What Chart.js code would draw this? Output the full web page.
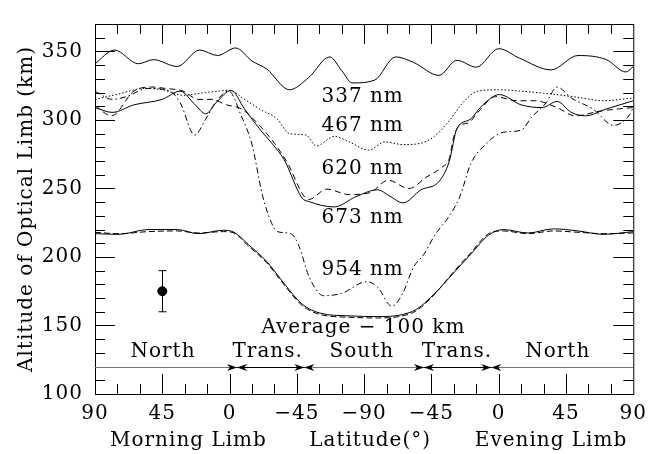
<!DOCTYPE html>
<html>
<head>
<meta charset="utf-8">
<script src="https://cdn.jsdelivr.net/npm/chart.js@4"></script>
<style>
  body { margin: 0; background: #fff; }
</style>
</head>
<body>
<canvas id="limb" width="654" height="454"></canvas>
<script>
// x is the distance along the limb path: 0 = 90 (morning) ... 180 = -90 ... 360 = 90 (evening)
var xTickLabels = ['90', '45', '0', '\u221245', '\u221290', '\u221245', '0', '45', '90'];

var pos337 = [0, 13, 29, 39, 55, 70, 82, 94, 105, 115, 130, 143, 157, 165, 172, 187, 201, 213, 230, 242, 255, 270, 284, 305, 323, 342, 355, 360];
var alt337 = [341, 351, 341, 344, 339, 351, 347, 352.5, 343, 337, 322, 331, 346, 336, 327, 329, 346, 342, 332.5, 343.5, 338.5, 352, 345, 336.5, 347, 344, 335, 339];

var pos467 = [0, 16, 33, 45, 59, 74, 90, 100, 110, 122, 130, 141, 148, 160, 170, 183, 194, 206, 218, 227, 237, 246, 256, 270, 285, 300, 320, 340, 360];
var alt467 = [315, 319, 323, 322, 318, 320, 321.5, 315, 308, 300.5, 290, 289, 281, 288, 284, 278, 284, 282, 283, 288, 299.5, 312.5, 321, 322, 321, 319.5, 317, 314, 316];

var pos620 = [0, 11, 26, 38, 47, 59, 69, 78, 88, 98, 110, 120, 128, 143, 155, 170, 184, 196, 210, 222, 232, 237, 240, 244, 250, 256, 268, 282, 294, 309, 321, 338, 350, 360];
var alt620 = [310.5, 303, 321, 324, 323, 321, 315, 315, 311, 308, 296, 283, 270, 242, 249.5, 245.5, 247, 256, 250, 258.5, 265.5, 272, 288, 296, 298, 305.5, 317, 314, 314, 309, 303, 306.5, 308, 309];

var pos673 = [0, 11.5, 26, 45, 57, 67, 74, 81, 91, 100, 110, 119, 126.5, 138.5, 143, 160, 174.5, 189, 197, 206, 218, 230, 237, 242, 251, 258.5, 270.5, 285, 299, 309, 318.5, 328, 342, 360];
var alt673 = [309, 305.5, 311, 315, 321, 311, 304.5, 312.5, 321.5, 308, 293.5, 282, 271, 243, 240.5, 236.5, 244, 249, 244.5, 239.5, 249, 255, 270, 293.5, 300.5, 310, 318.5, 311, 309, 313.5, 305.5, 303, 308, 314];

var pos954 = [0, 11.5, 21, 35.5, 50, 57, 66.7, 74, 81, 89.5, 97.8, 105, 112, 118, 122, 131, 136, 143.4, 153, 165, 181.8, 189, 198.6, 205.8, 213, 220, 227.3, 237, 244, 251.3, 261, 273, 285, 292, 301.7, 309, 318.5, 333, 347, 357, 360];
var alt954 = [321, 315, 317, 323, 321, 312.5, 289, 300.5, 313.5, 321, 303, 282, 245, 225, 218.5, 217, 209, 185, 171.7, 173.5, 182, 178, 164, 173.5, 192.5, 202, 216, 230, 244, 268, 282, 291, 292.5, 302, 312.5, 324, 316, 308, 296, 303, 309];

var posAvg = [0, 16, 35.5, 55, 69, 86, 93, 102.6, 114.6, 126.6, 138.6, 150.6, 170, 189, 203.4, 215.3, 227.3, 239.3, 251.3, 263.3, 273, 289.7, 306.5, 323, 340, 360];
var altAvgA = [217, 216.5, 220, 220, 217, 219.5, 218, 209, 197, 180.5, 165.5, 159, 157, 156.5, 157.5, 162, 173.5, 187.7, 202, 216, 220, 217.5, 220.5, 219, 216.5, 218.5];
var altAvgB = [218, 217, 218.5, 219, 217.5, 218.5, 217.5, 208, 196, 179.5, 164.5, 158, 156, 155.5, 156.5, 161, 173, 188.5, 203, 217, 219, 217, 219, 218, 217, 217.5];

// single measurement with error bar
var errPos = 45, errAlt = 175, errSize = 15;

// limb regions along the path (altitude 120 line)
var regionBounds = [95, 140, 220, 265];
var regionNames = ['North', 'Trans.', 'South', 'Trans.', 'North'];
var regionPos = [45.5, 115.5, 178.5, 242, 309.5];
var regionAlt = 131;

var curveNames = ['337 nm', '467 nm', '620 nm', '673 nm', '954 nm', 'Average \u2212 100 km'];
var curveLabelPos = [179, 179, 179, 179, 179, 179.5];
var curveLabelAlt = [317, 295.6, 264.7, 228.9, 190.5, 148];

var limbNames = ['Morning Limb', 'Latitude(\u00b0)', 'Evening Limb'];
var limbPos = [62.5, 184, 305];

function pts(p, a) {
  return p.map(function (v, i) { return { x: v, y: a[i] }; });
}

function curve(label, p, a, dash) {
  return {
    label: label,
    data: pts(p, a),
    borderColor: '#000',
    borderWidth: 1,
    borderDash: dash,
    pointRadius: 0,
    fill: false,
    cubicInterpolationMode: 'monotone'
  };
}

var FONT = { family: '"DejaVu Serif"', size: 20 };

var decor = {
  id: 'decor',
  beforeDraw: function (chart) {
    chart.ctx.letterSpacing = '1px';
  },
  afterDatasetsDraw: function (chart) {
    var ctx = chart.ctx, a = chart.chartArea, x = chart.scales.x, y = chart.scales.y;
    ctx.save();
    ctx.strokeStyle = '#000';
    ctx.fillStyle = '#000';
    ctx.lineWidth = 1;

    // frame and inward ticks
    ctx.strokeRect(a.left + 0.5, a.top + 0.5, a.right - a.left, a.bottom - a.top);
    ctx.beginPath();
    for (var v = 15; v < 360; v += 15) {
      var px = Math.round(x.getPixelForValue(v)) + 0.5;
      var len = v % 45 === 0 ? 20 : 10;
      ctx.moveTo(px, a.bottom); ctx.lineTo(px, a.bottom - len);
      ctx.moveTo(px, a.top); ctx.lineTo(px, a.top + len);
    }
    for (var h = 110; h < 370; h += 10) {
      var py = Math.round(y.getPixelForValue(h)) + 0.5;
      var l2 = h % 50 === 0 ? 20 : 10;
      ctx.moveTo(a.left, py); ctx.lineTo(a.left + l2, py);
      ctx.moveTo(a.right, py); ctx.lineTo(a.right - l2, py);
    }
    ctx.stroke();

    // error bar
    var ex = Math.round(x.getPixelForValue(errPos)) + 0.5;
    var et = y.getPixelForValue(errAlt + errSize), eb = y.getPixelForValue(errAlt - errSize);
    ctx.beginPath();
    ctx.moveTo(ex, et); ctx.lineTo(ex, eb);
    ctx.moveTo(ex - 4, et); ctx.lineTo(ex + 4, et);
    ctx.moveTo(ex - 4, eb); ctx.lineTo(ex + 4, eb);
    ctx.stroke();

    // region line with arrow heads
    var ry = Math.round(y.getPixelForValue(120)) + 0.5;
    ctx.strokeStyle = '#777';
    ctx.beginPath();
    ctx.moveTo(a.left, ry); ctx.lineTo(a.right, ry);
    ctx.stroke();
    ctx.strokeStyle = '#000';
    ctx.beginPath();
    ctx.moveTo(x.getPixelForValue(regionBounds[0]), ry); ctx.lineTo(x.getPixelForValue(regionBounds[1]), ry);
    ctx.moveTo(x.getPixelForValue(regionBounds[2]), ry); ctx.lineTo(x.getPixelForValue(regionBounds[3]), ry);
    ctx.stroke();
    regionBounds.forEach(function (b) {
      var bx = x.getPixelForValue(b);
      [-1, 1].forEach(function (s) {
        ctx.beginPath();
        ctx.moveTo(bx, ry);
        ctx.lineTo(bx + s * 10, ry - 3.5);
        ctx.lineTo(bx + s * 7, ry);
        ctx.lineTo(bx + s * 10, ry + 3.5);
        ctx.closePath();
        ctx.fill();
      });
    });

    // texts
    ctx.font = FONT.size + 'px ' + FONT.family;
    ctx.textAlign = 'center';
    ctx.textBaseline = 'middle';
    curveNames.forEach(function (t, i) {
      ctx.fillText(t, x.getPixelForValue(curveLabelPos[i]), y.getPixelForValue(curveLabelAlt[i]));
    });
    regionNames.forEach(function (t, i) {
      ctx.fillText(t, x.getPixelForValue(regionPos[i]), y.getPixelForValue(regionAlt));
    });
    limbNames.forEach(function (t, i) {
      ctx.fillText(t, x.getPixelForValue(limbPos[i]), x.bottom - 13);
    });
    ctx.restore();
  }
};

var ctx = document.getElementById('limb').getContext('2d');
var limbChart = new Chart(ctx, {
  type: 'line',
  data: {
    datasets: [
      curve('337 nm', pos337, alt337, []),
      curve('467 nm', pos467, alt467, [1.5, 2]),
      curve('620 nm', pos620, alt620, [6, 4]),
      curve('673 nm', pos673, alt673, []),
      curve('954 nm', pos954, alt954, [6, 3, 1.5, 3]),
      curve('Average - 100 km', posAvg, altAvgA, []),
      curve('Average - 100 km (b)', posAvg, altAvgB, [6, 3]),
      {
        label: 'point',
        data: [{ x: errPos, y: errAlt }],
        showLine: false,
        pointRadius: 4.5,
        pointBackgroundColor: '#000',
        pointBorderColor: '#000'
      }
    ]
  },
  options: {
    responsive: false,
    animation: false,
    devicePixelRatio: 1,
    layout: { padding: { top: 12, right: 14, left: 0, bottom: 0 } },
    plugins: { legend: { display: false }, tooltip: { enabled: false } },
    scales: {
      x: {
        type: 'linear',
        min: 0,
        max: 360,
        grid: { display: false, drawTicks: false },
        border: { display: false },
        ticks: {
          stepSize: 45,
          autoSkip: false,
          maxRotation: 0,
          padding: 8,
          color: '#000',
          font: FONT,
          callback: function (v) { return xTickLabels[v / 45]; }
        },
        afterFit: function (s) { s.height = 60; }
      },
      y: {
        min: 100,
        max: 370,
        grid: { display: false, drawTicks: false },
        border: { display: false },
        ticks: {
          stepSize: 50,
          padding: 12,
          color: '#000',
          font: FONT,
          callback: function (v) { return v % 50 === 0 ? v : ''; }
        },
        title: { display: true, text: 'Altitude of Optical Limb (km)', color: '#000', font: FONT, padding: { top: 15, bottom: 0 } },
        afterFit: function (s) { s.width = 95; }
      }
    }
  },
  plugins: [decor]
});
</script>
</body>
</html>
